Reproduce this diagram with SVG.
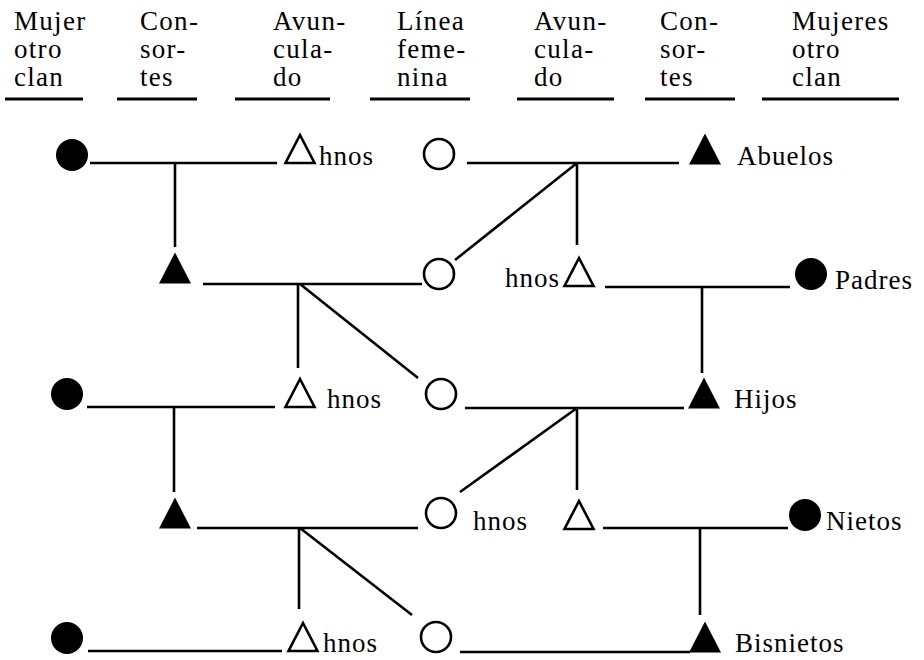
<svg xmlns="http://www.w3.org/2000/svg" width="924" height="660" viewBox="0 0 924 660">
<style>
text{font-family:"Liberation Serif","Times New Roman",serif;font-size:27px;letter-spacing:1px;fill:#000}
.h text{letter-spacing:1.3px}
.ul{stroke:#000;stroke-width:3}
.ln{stroke:#000;stroke-width:2.6;fill:none}
.fc{fill:#000}
.hc{fill:#fff;stroke:#000;stroke-width:2.6}
.ft{fill:#000}
.ht{fill:#fff;stroke:#000;stroke-width:2.6}
</style>
<defs>
<polygon id="ftri" points="0,-15.5 16,15.5 -16,15.5"/>
<polygon id="htri" points="0,-14 14.5,14 -14.5,14"/>
</defs>
<rect width="924" height="660" fill="#fff"/>
<g id="headers" class="h">
<text x="14" y="30">Mujer</text><text x="14" y="58">otro</text><text x="14" y="86">clan</text>
<text x="140" y="30">Con-</text><text x="140" y="58">sor-</text><text x="140" y="86">tes</text>
<text x="273" y="30">Avun-</text><text x="273" y="58">cula-</text><text x="273" y="86">do</text>
<text x="397" y="30">Línea</text><text x="397" y="58">feme-</text><text x="397" y="86">nina</text>
<text x="534" y="30">Avun-</text><text x="534" y="58">cula-</text><text x="534" y="86">do</text>
<text x="660" y="30">Con-</text><text x="660" y="58">sor-</text><text x="660" y="86">tes</text>
<text x="792" y="30">Mujeres</text><text x="792" y="58">otro</text><text x="792" y="86">clan</text>
<line class="ul" x1="5" y1="99" x2="83" y2="99"/>
<line class="ul" x1="117" y1="99" x2="197" y2="99"/>
<line class="ul" x1="235" y1="99" x2="330" y2="99"/>
<line class="ul" x1="370" y1="99" x2="470" y2="99"/>
<line class="ul" x1="517" y1="99" x2="614" y2="99"/>
<line class="ul" x1="645" y1="99" x2="735" y2="99"/>
<line class="ul" x1="762" y1="99" x2="899" y2="99"/>
</g>
<g id="connectors">
<path class="ln" d="M90,163 H277 M175,163 V247"/>
<path class="ln" d="M467,163 H679 M577,163 V245 M577,163 L455,260"/>
<path class="ln" d="M203,284 H422 M298,284 V368 M300,284 L418,378"/>
<path class="ln" d="M605,287 H790 M702,287 V373"/>
<path class="ln" d="M87,407 H275 M174,407 V492"/>
<path class="ln" d="M465,408 H684 M577,408 V490 M577,408 L460,492"/>
<path class="ln" d="M197,528 H418 M299,528 V609 M300,528 L412,615"/>
<path class="ln" d="M603,528 H788 M700,528 V615"/>
<path class="ln" d="M88,651 H282"/>
<path class="ln" d="M460,652 H690"/>
</g>
<g id="n-r1-mujer"><circle class="fc" cx="72" cy="155" r="16"/></g>
<g id="n-r1-hnos"><use href="#htri" class="ht" x="300" y="149"/><text x="319" y="165">hnos</text></g>
<g id="n-r1-linea"><circle class="hc" cx="439" cy="154" r="15"/></g>
<g id="n-r1-abuelos"><use href="#ftri" class="ft" x="705" y="149"/><text x="737" y="165">Abuelos</text></g>

<g id="n-r2-consorte"><use href="#ftri" class="ft" x="175" y="268"/></g>
<g id="n-r2-linea"><circle class="hc" cx="439" cy="274" r="15"/></g>
<g id="n-r2-hnos"><text x="505" y="287">hnos</text><use href="#htri" class="ht" x="579" y="272"/></g>
<g id="n-r2-padres"><circle class="fc" cx="811" cy="274" r="16"/><text x="835" y="289">Padres</text></g>

<g id="n-r3-mujer"><circle class="fc" cx="67" cy="394" r="16"/></g>
<g id="n-r3-hnos"><use href="#htri" class="ht" x="300" y="393"/><text x="327" y="408">hnos</text></g>
<g id="n-r3-linea"><circle class="hc" cx="441" cy="394" r="15"/></g>
<g id="n-r3-hijos"><use href="#ftri" class="ft" x="704" y="393"/><text x="734" y="408">Hijos</text></g>

<g id="n-r4-consorte"><use href="#ftri" class="ft" x="175" y="513"/></g>
<g id="n-r4-linea"><circle class="hc" cx="441" cy="513" r="15"/><text x="473" y="530">hnos</text></g>
<g id="n-r4-hnos"><use href="#htri" class="ht" x="579" y="515"/></g>
<g id="n-r4-nietos"><circle class="fc" cx="805" cy="515" r="16"/><text x="826" y="530">Nietos</text></g>

<g id="n-r5-mujer"><circle class="fc" cx="67" cy="638" r="16"/></g>
<g id="n-r5-hnos"><use href="#htri" class="ht" x="303" y="637"/><text x="323" y="652">hnos</text></g>
<g id="n-r5-linea"><circle class="hc" cx="436" cy="637" r="15"/></g>
<g id="n-r5-bisnietos"><use href="#ftri" class="ft" x="705" y="637"/><text x="735" y="652">Bisnietos</text></g>
</svg>
